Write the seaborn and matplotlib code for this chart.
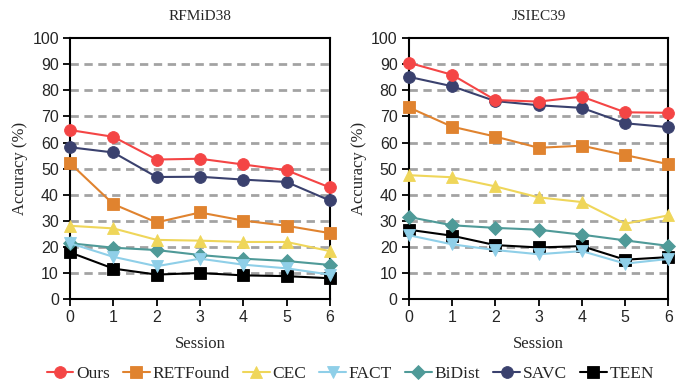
import seaborn as sns
import matplotlib.pyplot as plt
import pandas as pd

sns.set_theme(style="white")

sessions = [0, 1, 2, 3, 4, 5, 6]
methods = ["Ours", "RETFound", "CEC", "FACT", "BiDist", "SAVC", "TEEN"]

# RFMiD38
rfmid_ours = [64.8, 62.2, 53.5, 53.8, 51.6, 49.4, 42.8]
rfmid_retfound = [52.1, 36.4, 29.4, 33.2, 30.1, 28.1, 25.3]
rfmid_cec = [28.1, 27.1, 22.7, 22.4, 21.9, 21.9, 18.4]
rfmid_fact = [21.4, 16.2, 12.6, 15.5, 13.2, 11.8, 9.4]
rfmid_bidist = [21.4, 19.7, 18.8, 16.9, 15.5, 14.6, 13.1]
rfmid_savc = [58.2, 56.2, 46.8, 46.9, 45.8, 44.9, 37.8]
rfmid_teen = [17.9, 11.7, 9.4, 10.0, 9.1, 8.8, 8.0]

# JSIEC39
jsiec_ours = [90.6, 86.0, 76.3, 75.7, 77.6, 71.6, 71.4]
jsiec_retfound = [73.5, 66.1, 62.3, 58.0, 58.8, 55.2, 51.7]
jsiec_cec = [47.5, 46.7, 43.2, 39.0, 37.2, 28.9, 32.1]
jsiec_fact = [24.5, 21.0, 18.8, 17.2, 18.4, 13.6, 15.4]
jsiec_bidist = [31.5, 28.3, 27.3, 26.6, 24.7, 22.5, 20.4]
jsiec_savc = [85.2, 81.6, 75.9, 74.3, 73.3, 67.4, 65.9]
jsiec_teen = [26.6, 24.3, 20.7, 19.8, 20.3, 15.1, 16.1]

colors = ["#f44545", "#e0832f", "#efd65a", "#8fcfe8", "#4f9a98", "#3a416e", "#000000"]
markers = ["o", "s", "^", "v", "D", "o", "s"]
sizes = [8.5, 8.5, 9, 9, 7, 8.5, 8.5]


def to_long(series):
    rows = []
    for m, vals in zip(methods, series):
        for s, v in zip(sessions, vals):
            rows.append({"Session": s, "Accuracy": v, "Method": m})
    return pd.DataFrame(rows)


panels = [
    ("RFMiD38", [rfmid_ours, rfmid_retfound, rfmid_cec, rfmid_fact, rfmid_bidist, rfmid_savc, rfmid_teen]),
    ("JSIEC39", [jsiec_ours, jsiec_retfound, jsiec_cec, jsiec_fact, jsiec_bidist, jsiec_savc, jsiec_teen]),
]

fig = plt.figure(figsize=(6.8, 3.82), dpi=100)
ax1 = fig.add_axes([0.103, 0.217, 0.382, 0.683])
ax2 = fig.add_axes([0.601, 0.217, 0.382, 0.683])

serif = "Liberation Serif"
sans = "Liberation Sans"

for ax, (title, series) in zip([ax1, ax2], panels):
    df = to_long(series)
    # draw in reverse so Ours ends up on top
    for i in reversed(range(len(methods))):
        sub = df[df["Method"] == methods[i]]
        sns.lineplot(data=sub, x="Session", y="Accuracy", ax=ax, color=colors[i],
                     marker=markers[i], markersize=sizes[i], markeredgewidth=0.6,
                     markeredgecolor=colors[i], linewidth=1.5, label=methods[i],
                     clip_on=False, zorder=3 + (len(methods) - i) * 0.01)
    ax.set_xlim(0, 6)
    ax.set_ylim(0, 100)
    ax.set_xticks(sessions)
    ax.set_yticks(range(0, 101, 10))
    for y in range(10, 100, 10):
        ax.axhline(y, color="#a3a3a3", linestyle=(0, (3, 2)), linewidth=2, zorder=1)
    for sp in ax.spines.values():
        sp.set_color("black")
        sp.set_linewidth(1.5)
    ax.tick_params(axis="both", direction="out", length=5, width=1.3, color="black",
                   labelsize=11.5, pad=3, bottom=True, left=True)
    for lab in ax.get_xticklabels() + ax.get_yticklabels():
        lab.set_fontfamily(sans)
    ax.set_title(title, fontfamily=serif, fontsize=11, pad=13)
    ax.set_xlabel("Session", fontfamily=serif, fontsize=12, labelpad=8)
    ax.set_ylabel("Accuracy (%)", fontfamily=serif, fontsize=12, labelpad=3)
    ax.get_legend().remove()

handles, labels = ax1.get_legend_handles_labels()
order = [labels.index(m) for m in methods]
fig.legend([handles[i] for i in order], methods, loc="center", bbox_to_anchor=(0.515, 0.021),
           ncol=7, frameon=False, prop={"family": serif, "size": 12.5},
           handlelength=1.55, handletextpad=0.15, columnspacing=0.75)

fig.savefig("out.png", dpi=100)
